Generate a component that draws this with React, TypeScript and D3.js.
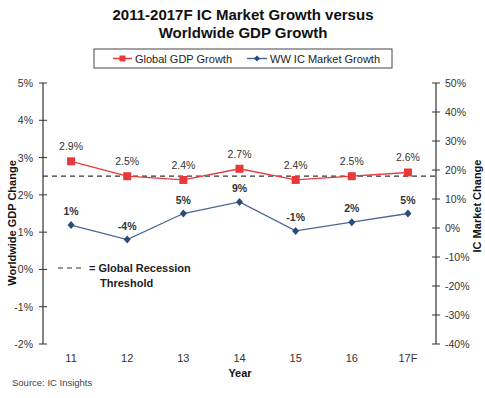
import * as d3 from "d3";

const years = ["11", "12", "13", "14", "15", "16", "17F"];
const gdpGrowth = [2.9, 2.5, 2.4, 2.7, 2.4, 2.5, 2.6];
const icGrowth = [1, -4, 5, 9, -1, 2, 5];
const gdpTicks = [5, 4, 3, 2, 1, 0, -1, -2];
const icTicks = [50, 40, 30, 20, 10, 0, -10, -20, -30, -40];
const recessionThreshold = 2.5;

const W = 485;
const H = 398;
const MARGIN = { top: 83, right: 49, bottom: 54, left: 43 };
const FONT = "'Liberation Sans', Arial, sans-serif";
const RED = "#e8393a";
const BLUE = "#2c4a78";

export default function App() {
  const x = d3
    .scaleBand<string>()
    .domain(years)
    .range([MARGIN.left, W - MARGIN.right]);
  const yL = d3.scaleLinear().domain([-2, 5]).range([H - MARGIN.bottom, MARGIN.top]);
  const yR = d3.scaleLinear().domain([-40, 50]).range([H - MARGIN.bottom, MARGIN.top]);
  const cx = (i: number) => (x(years[i]) ?? 0) + x.bandwidth() / 2;

  const gdpLine = d3
    .line<number>()
    .x((_, i) => cx(i))
    .y((d) => yL(d));
  const icLine = d3
    .line<number>()
    .x((_, i) => cx(i))
    .y((d) => yR(d));

  const xR = W - MARGIN.right;

  return (
    <svg
      width={W}
      height={H}
      style={{ position: "absolute", left: 0, top: 0, fontFamily: FONT }}
    >
      <rect width={W} height={H} fill="#fff" />
      {/* title */}
      <text x={243} y={20} textAnchor="middle" fontSize={15} fontWeight="bold" fill="#111">
        2011-2017F IC Market Growth versus
      </text>
      <text x={243} y={38} textAnchor="middle" fontSize={15} fontWeight="bold" fill="#111">
        Worldwide GDP Growth
      </text>

      {/* legend */}
      <rect x={94} y={49} width={298} height={19} fill="#fff" stroke="#444" strokeWidth={1} />
      <line x1={113} x2={132} y1={58.5} y2={58.5} stroke={RED} strokeWidth={1.5} />
      <rect x={119.5} y={55.5} width={6} height={6} fill={RED} />
      <text x={135} y={62.5} fontSize={11} fill="#222">Global GDP Growth</text>
      <line x1={247} x2={267} y1={58.5} y2={58.5} stroke="#4a6890" strokeWidth={1.5} />
      <path d={`M257,55.5L260,58.5L257,61.5L254,58.5Z`} fill={BLUE} />
      <text x={270} y={62.5} fontSize={11} fill="#222">WW IC Market Growth</text>

      {/* left axis */}
      <line x1={MARGIN.left} x2={MARGIN.left} y1={yL(5)} y2={yL(-2)} stroke="#333" strokeWidth={1.2} />
      {gdpTicks.map((t) => (
        <g key={t}>
          <line x1={MARGIN.left - 4} x2={MARGIN.left + 4} y1={yL(t)} y2={yL(t)} stroke="#333" />
          <text x={MARGIN.left - 10} y={yL(t) + 4} textAnchor="end" fontSize={10.5} fill="#333">
            {t}%
          </text>
        </g>
      ))}
      {/* right axis */}
      <line x1={xR} x2={xR} y1={yR(50)} y2={yR(-40)} stroke="#333" strokeWidth={1.2} />
      {icTicks.map((t) => (
        <g key={t}>
          <line x1={xR - 4} x2={xR + 4} y1={yR(t)} y2={yR(t)} stroke="#333" />
          <text x={xR + 9} y={yR(t) + 4} fontSize={10.5} fill="#333">
            {t}%
          </text>
        </g>
      ))}

      {/* axis titles */}
      <text
        transform={`translate(16,223) rotate(-90)`}
        textAnchor="middle"
        fontSize={11}
        fontWeight="bold"
        fill="#111"
      >
        Worldwide GDP Change
      </text>
      <text
        transform={`translate(481,206) rotate(-90)`}
        textAnchor="middle"
        fontSize={11}
        fontWeight="bold"
        fill="#111"
      >
        IC Market Change
      </text>

      {/* x labels */}
      {years.map((yr, i) => (
        <text key={yr} x={cx(i)} y={362} textAnchor="middle" fontSize={11} fill="#333">
          {yr}
        </text>
      ))}
      <text x={240} y={377} textAnchor="middle" fontSize={11} fontWeight="bold" fill="#111">
        Year
      </text>
      <text x={12} y={386} fontSize={9.5} fill="#444">Source: IC Insights</text>

      {/* threshold */}
      <line
        x1={MARGIN.left}
        x2={xR}
        y1={yL(recessionThreshold)}
        y2={yL(recessionThreshold)}
        stroke="#333"
        strokeWidth={1.2}
        strokeDasharray="5,4"
      />
      <line x1={58} x2={82} y1={268} y2={268} stroke="#333" strokeWidth={1.2} strokeDasharray="5,4" />
      <text x={89} y={272} fontSize={11} fontWeight="bold" fill="#222">
        = Global Recession
      </text>
      <text x={100} y={287} fontSize={11} fontWeight="bold" fill="#222">
        Threshold
      </text>

      {/* GDP series */}
      <path d={gdpLine(gdpGrowth) ?? ""} fill="none" stroke={RED} strokeWidth={1.3} />
      {gdpGrowth.map((v, i) => (
        <g key={i}>
          <rect x={cx(i) - 4} y={yL(v) - 4} width={8} height={8} fill={RED} />
          <text x={cx(i)} y={yL(v) - 11} textAnchor="middle" fontSize={10.5} fill="#333">
            {v.toFixed(1)}%
          </text>
        </g>
      ))}

      {/* IC series */}
      <path d={icLine(icGrowth) ?? ""} fill="none" stroke="#4a6890" strokeWidth={1.3} />
      {icGrowth.map((v, i) => (
        <g key={i}>
          <path
            d={`M${cx(i)},${yR(v) - 4}L${cx(i) + 3.5},${yR(v)}L${cx(i)},${yR(v) + 4}L${cx(i) - 3.5},${yR(v)}Z`}
            fill={BLUE}
          />
          <text x={cx(i)} y={yR(v) - 10} textAnchor="middle" fontSize={10.5} fontWeight="bold" fill="#333">
            {v}%
          </text>
        </g>
      ))}
    </svg>
  );
}
